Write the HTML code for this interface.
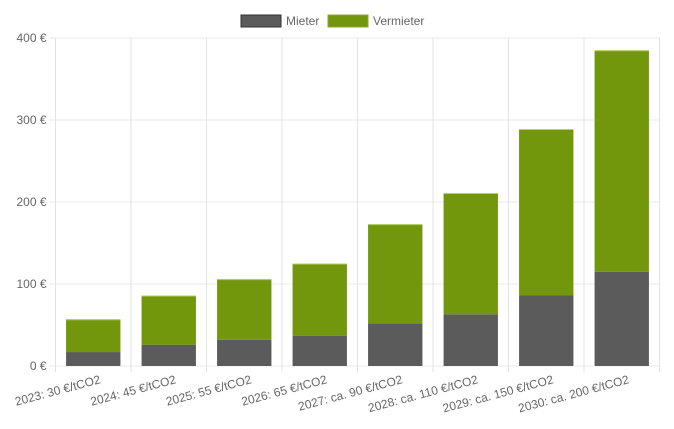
<!DOCTYPE html>
<html><head><meta charset="utf-8"><style>
body{margin:0;background:#fff;font-family:"Liberation Sans",sans-serif}
svg text{font-family:"Liberation Sans",sans-serif;fill:#666;font-size:12px}
</style></head><body>
<svg id="c" width="674" height="424">
<g>
<rect x="241" y="15" width="40" height="12" fill="#5b5b5b" stroke="#333"/>
<text x="286" y="25">Mieter</text>
<rect x="328" y="15" width="40" height="12" fill="#73970c" stroke="#8aaa30"/>
<text x="373" y="25">Vermieter</text>
</g>
<g id="grid"></g><g id="bars"></g><g id="labels"></g>
</svg>
<script>
const categories=["2023: 30 €/tCO2","2024: 45 €/tCO2","2025: 55 €/tCO2","2026: 65 €/tCO2","2027: ca. 90 €/tCO2","2028: ca. 110 €/tCO2","2029: ca. 150 €/tCO2","2030: ca. 200 €/tCO2"];
const mieter=[17,26,32,37,52,63,86,115];
const vermieter=[40,60,74,88,121,148,203,270];
const yTicks=[0,100,200,300,400];
const yTickLabels=["0 €","100 €","200 €","300 €","400 €"];
const NS="http://www.w3.org/2000/svg";
const X0=55.5,X1=659.5,Y0=366,Y1=38,YMAX=400;
const bw=(X1-X0)/categories.length;
const y=v=>Y0-(v/YMAX)*(Y0-Y1);
const xc=i=>X0+bw*(i+0.5);
function mk(t,a,p){const e=document.createElementNS(NS,t);for(const k in a)e.setAttribute(k,a[k]);p.appendChild(e);return e;}
const g=document.getElementById('grid'),b=document.getElementById('bars'),l=document.getElementById('labels');
yTicks.forEach((v,i)=>{
 const ln=mk('line',{x1:X0-6,x2:X1,y1:y(v),y2:y(v),stroke:'#e8e8e8'},g);
 
 
 const t=mk('text',{x:X0-9,y:y(v)+4,'text-anchor':'end'},l);t.textContent=yTickLabels[i];
 
 
});
for(let i=0;i<=categories.length;i++){
 const ln=mk('line',{x1:X0+bw*i,x2:X0+bw*i,y1:Y1,y2:Y0+6,stroke:'#e3e3e3'},g);
 
 
}
const W=bw*0.72;
categories.forEach((c,i)=>{
 const x=xc(i)-W/2;
 const r1=mk('rect',{x:x,y:y(mieter[i]),width:W,height:Y0-y(mieter[i]),fill:'#5b5b5b'},b);
 
 
 const tot=mieter[i]+vermieter[i];
 const r2=mk('rect',{x:x,y:y(tot),width:W,height:y(mieter[i])-y(tot),fill:'#73970c'},b);
 
 
 mk('line',{x1:x,x2:x+W,y1:y(tot)+0.5,y2:y(tot)+0.5,stroke:'#b5cf6a'},b);
 const t=mk('text',{x:xc(i)+8,y:Y0+17,'text-anchor':'end',transform:`rotate(-15 ${xc(i)+8} ${Y0+17})`},l);
 t.textContent=c;
 
 
});
</script>
</body></html>
